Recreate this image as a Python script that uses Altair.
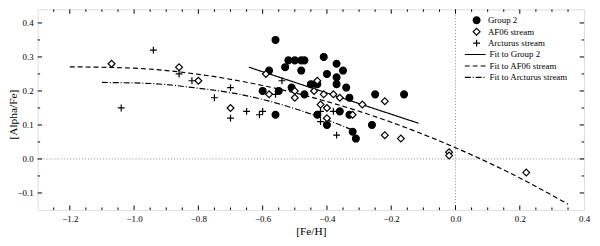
import altair as alt
import pandas as pd

# ---------------- data ----------------
g2_x = [-0.56, -0.52, -0.50, -0.48, -0.47, -0.53, -0.58, -0.48, -0.41, -0.37, -0.40,
        -0.35, -0.37, -0.45, -0.43, -0.37, -0.34, -0.51, -0.60, -0.55, -0.47, -0.33,
        -0.25, -0.16, -0.36, -0.43, -0.33, -0.56, -0.40, -0.26, -0.32, -0.31]
g2_y = [0.35, 0.29, 0.29, 0.29, 0.29, 0.27, 0.26, 0.26, 0.30, 0.28, 0.25,
        0.26, 0.24, 0.22, 0.22, 0.22, 0.21, 0.21, 0.20, 0.20, 0.19, 0.18,
        0.19, 0.19, 0.14, 0.13, 0.13, 0.13, 0.10, 0.10, 0.08, 0.06]

af_x = [-1.07, -0.86, -0.80, -0.70, -0.59, -0.58, -0.50, -0.50, -0.43, -0.44, -0.41,
        -0.38, -0.36, -0.42, -0.40, -0.40, -0.32, -0.29, -0.22, -0.22, -0.17, -0.02,
        -0.02, 0.22]
af_y = [0.28, 0.27, 0.23, 0.15, 0.25, 0.19, 0.20, 0.18, 0.23, 0.20, 0.19,
        0.19, 0.18, 0.16, 0.15, 0.12, 0.13, 0.16, 0.17, 0.07, 0.06, 0.02,
        0.01, -0.04]

arc_x = [-0.94, -1.04, -0.86, -0.82, -0.75, -0.70, -0.70, -0.65, -0.60, -0.61, -0.54,
         -0.56, -0.42, -0.38, -0.42, -0.37]
arc_y = [0.32, 0.15, 0.25, 0.23, 0.18, 0.21, 0.12, 0.14, 0.14, 0.13, 0.23,
         0.19, 0.14, 0.14, 0.11, 0.07]

fit_g2_x = [-0.643, -0.115]
fit_g2_y = [0.270, 0.105]
fit_af_x = [-1.20, -1.00, -0.80, -0.60, -0.40, -0.20, 0.00, 0.20, 0.35]
fit_af_y = [0.271, 0.267, 0.249, 0.216, 0.169, 0.108, 0.033, -0.056, -0.133]
fit_arc_x = [-1.10, -0.95, -0.80, -0.70, -0.60, -0.50, -0.40, -0.32]
fit_arc_y = [0.225, 0.222, 0.208, 0.195, 0.175, 0.148, 0.115, 0.085]

point_names = ["Group 2", "AF06 stream", "Arcturus stream"]
fit_names = ["Fit to Group 2", "Fit to AF06 stream", "Fit to Arcturus stream"]

x_labels = [-1.2, -1.0, -0.8, -0.6, -0.4, -0.2, 0.0, 0.2, 0.4]
y_labels = [-0.1, 0.0, 0.1, 0.2, 0.3, 0.4]
x_major = [-1.2, -1.0, -0.8, -0.6, -0.4, -0.2, 0.0, 0.2]
x_minor = [-1.25, -1.15, -1.1, -1.05, -0.95, -0.9, -0.85, -0.75, -0.7, -0.65,
           -0.55, -0.5, -0.45, -0.35, -0.3, -0.25, -0.15, -0.1, -0.05,
           0.05, 0.1, 0.15, 0.25, 0.3, 0.35]
y_major = [-0.1, 0.0, 0.1, 0.2, 0.3, 0.4]
y_minor = [-0.05, 0.05, 0.15, 0.25, 0.35]

# ---------------- tables ----------------
pts = pd.concat([
    pd.DataFrame({"x": g2_x, "y": g2_y, "group": point_names[0]}),
    pd.DataFrame({"x": af_x, "y": af_y, "group": point_names[1]}),
    pd.DataFrame({"x": arc_x, "y": arc_y, "group": point_names[2]}),
], ignore_index=True)
pts["order"] = range(len(pts))

fits = pd.concat([
    pd.DataFrame({"x": fit_g2_x, "y": fit_g2_y, "fit": fit_names[0]}),
    pd.DataFrame({"x": fit_af_x, "y": fit_af_y, "fit": fit_names[1]}),
    pd.DataFrame({"x": fit_arc_x, "y": fit_arc_y, "fit": fit_names[2]}),
], ignore_index=True)

W, H = 553, 203
FONT = "Liberation Serif"

xs = alt.Scale(domain=[-1.3, 0.4], nice=False, zero=False)
ys = alt.Scale(domain=[-0.15, 0.44], nice=False, zero=False)

xaxis = alt.Axis(values=x_labels, format=".1f", ticks=False, domain=False, grid=False,
                 labelFont=FONT, labelFontSize=9, labelColor="black", labelPadding=5,
                 labelFlush=False, title="[Fe/H]", titleFont=FONT, titleFontSize=11.5,
                 titleFontWeight="normal", titleColor="black", titleY=22,
                 titleBaseline="middle")
yaxis = alt.Axis(values=y_labels, format=".1f", ticks=False, domain=False, grid=False,
                 labelFont=FONT, labelFontSize=9, labelColor="black", labelPadding=4.5,
                 labelFlush=False, title="[Alpha/Fe]", titleFont=FONT, titleFontSize=11.5,
                 titleFontWeight="normal", titleColor="black", titleX=-24.5, titleY=106,
                 titleAngle=270, titleBaseline="middle", titleAlign="center")

X = alt.X("x:Q", scale=xs, axis=xaxis)
Y = alt.Y("y:Q", scale=ys, axis=yaxis)

zero_h = alt.Chart(pd.DataFrame({"y": [0.0]})).mark_rule(
    color="#888888", strokeDash=[1, 2], strokeWidth=1).encode(y=Y)
zero_v = alt.Chart(pd.DataFrame({"x": [0.0]})).mark_rule(
    color="#888888", strokeDash=[1, 2], strokeWidth=1).encode(x=X)

lines = alt.Chart(fits).mark_line(color="black", strokeWidth=1.2, interpolate="monotone").encode(
    x=X, y=Y,
    strokeDash=alt.StrokeDash("fit:N",
        scale=alt.Scale(domain=fit_names, range=[[1, 0], [5, 3], [6, 2, 1, 2]]),
        legend=alt.Legend(orient="none", legendX=431.3, legendY=40.7, title=None,
                          symbolType="stroke", symbolSize=441, symbolStrokeWidth=1.2,
                          symbolStrokeColor="black", clipHeight=10, rowPadding=1.6,
                          labelFont=FONT, labelFontSize=9, labelColor="black",
                          labelOffset=3, padding=0)),
    detail="fit:N",
)

CROSS = "M-1,0L1,0M0,-1L0,1"
points = alt.Chart(pts).mark_point(strokeWidth=1.2, opacity=1, size=48).encode(
    x=X, y=Y,
    shape=alt.Shape("group:N",
        scale=alt.Scale(domain=point_names, range=["circle", "diamond", CROSS]),
        legend=alt.Legend(orient="none", legendX=439.7, legendY=6, title=None,
                          symbolStrokeWidth=1.2, symbolSize=48, clipHeight=10,
                          rowPadding=1.6, labelFont=FONT, labelFontSize=9,
                          labelColor="black", labelOffset=7, padding=0)),
    fill=alt.Fill("group:N",
        scale=alt.Scale(domain=point_names, range=["black", "white", "transparent"])),
    stroke=alt.Stroke("group:N",
        scale=alt.Scale(domain=point_names, range=["black", "black", "black"])),
    order="order:Q",
)

def xticks(vals, y0, y1):
    return alt.Chart(pd.DataFrame({"x": vals})).mark_rule(color="black", strokeWidth=1).encode(
        x=X, y=alt.value(y0), y2=alt.value(y1))

def yticks(vals, x0, x1):
    return alt.Chart(pd.DataFrame({"y": vals})).mark_rule(color="black", strokeWidth=1).encode(
        y=Y, x=alt.value(x0), x2=alt.value(x1))

ticks = [
    xticks(x_major, H, H - 4.5), xticks(x_minor, H, H - 2.5),
    xticks(x_major, 0, 4.5), xticks(x_minor, 0, 2.5),
    yticks(y_major, 0, 4.5), yticks(y_minor, 0, 2.5),
    yticks(y_major, W, W - 4.5), yticks(y_minor, W, W - 2.5),
]

chart = alt.layer(zero_h, zero_v, lines, points, *ticks).properties(
    width=W, height=H,
    autosize=alt.AutoSizeParams(type="none"),
    padding={"left": 30, "top": 0, "right": 8, "bottom": 27},
).configure_view(stroke="black", strokeWidth=1).configure(background="white")

chart.save("out.html", embed_options={"renderer": "svg", "actions": False})
